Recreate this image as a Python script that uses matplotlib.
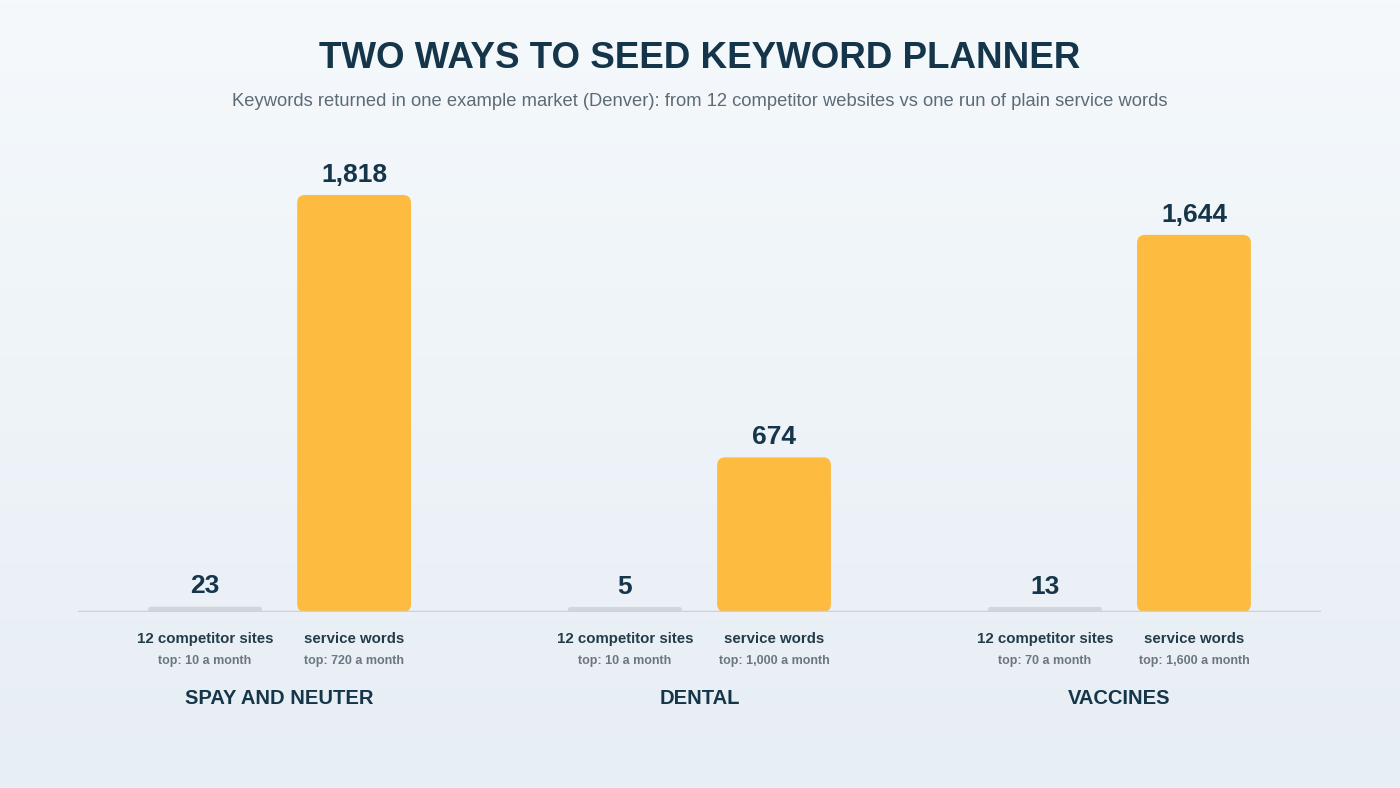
import matplotlib.pyplot as plt
import numpy as np
from matplotlib.patches import FancyBboxPatch
from matplotlib.colors import LinearSegmentedColormap

plt.rcParams['font.family'] = ['Liberation Sans', 'DejaVu Sans']

# data
groups = ["SPAY AND NEUTER", "DENTAL", "VACCINES"]
competitor_vals = [23, 5, 13]
service_vals = [1818, 674, 1644]
competitor_tops = ["top: 10 a month", "top: 10 a month", "top: 70 a month"]
service_tops = ["top: 720 a month", "top: 1,000 a month", "top: 1,600 a month"]
bar_names = ["12 competitor sites", "service words"]

NAVY = "#15354a"
ORANGE = "#fdbb40"
GRAY_BAR = "#cfd7dc"
SUB_GRAY = "#5d6b75"
SMALL_GRAY = "#6b7780"

W, H = 1400, 788
fig = plt.figure(figsize=(14, 7.88), dpi=100)

# background gradient
bg = fig.add_axes([0, 0, 1, 1])
grad = np.linspace(0, 1, 256).reshape(-1, 1)
cmap = LinearSegmentedColormap.from_list("bg", ["#f5f9fc", "#e7eef4"])
bg.imshow(grad, aspect='auto', cmap=cmap, extent=[0, 1, 0, 1], origin='upper')
bg.axis('off')

# main axes placed in pixel layout
left, right = 78, 1321
base_y, top_y = 612, 140
ax = fig.add_axes([left / W, (H - base_y) / H, (right - left) / W, (base_y - top_y) / H])
ax.patch.set_alpha(0)
ymax = 2057.6
ax.set_xlim(-0.48, 2.48)
ax.set_ylim(0, ymax)
ax.axis('off')

px_x = (right - left) / 2.96
px_y = (base_y - top_y) / ymax
aspect = px_x / px_y

offset = 0.1775
width = 0.271
x = np.arange(len(groups))

for i in x:
    for j, (vals, col) in enumerate([(competitor_vals, GRAY_BAR), (service_vals, ORANGE)]):
        v = vals[i]
        cx = i + (-offset if j == 0 else offset)
        h = max(v, 22)
        r = min(8 / px_x, (h * px_y / 2) / px_x)
        p = FancyBboxPatch((cx - width / 2, 0), width, h,
                           boxstyle=f"round,pad=0,rounding_size={r}",
                           mutation_aspect=aspect, facecolor=col, edgecolor='none', zorder=2)
        ax.add_patch(p)
        ax.annotate(f"{v:,}", (cx, h), xytext=(0, 6), textcoords='offset points',
                    ha='center', va='bottom', fontsize=19, fontweight='bold', color=NAVY)
        ax.annotate(bar_names[j], (cx, 0), xytext=(0, -19.5), textcoords='offset points',
                    ha='center', va='center', fontsize=10.8, fontweight='bold', color='#243b4a',
                    annotation_clip=False)
        tops = competitor_tops if j == 0 else service_tops
        ax.annotate(tops[i], (cx, 0), xytext=(0, -35.5), textcoords='offset points',
                    ha='center', va='center', fontsize=9, fontweight='bold', color=SMALL_GRAY,
                    annotation_clip=False)
    ax.annotate(groups[i], (i, 0), xytext=(0, -62.5), textcoords='offset points',
                ha='center', va='center', fontsize=14.5, fontweight='bold', color=NAVY,
                annotation_clip=False)

ax.axhline(0, color="#cbd3d9", linewidth=2.5, zorder=3)

fig.text(0.5, 1 - 58 / H, "TWO WAYS TO SEED KEYWORD PLANNER", ha='center', va='center',
         fontsize=26.5, fontweight='bold', color=NAVY)
fig.text(0.5, 1 - 102 / H,
         "Keywords returned in one example market (Denver): from 12 competitor websites vs one run of plain service words",
         ha='center', va='center', fontsize=13.2, color=SUB_GRAY)

fig.savefig("out.png", dpi=100)
